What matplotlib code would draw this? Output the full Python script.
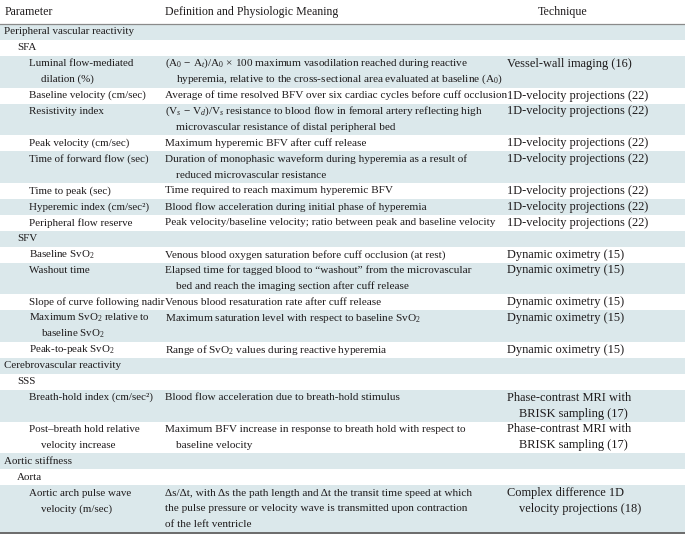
import matplotlib
matplotlib.use("Agg")
import matplotlib.pyplot as plt
from matplotlib.patches import Rectangle

# ---------------- table content ----------------
headers = ["Parameter", "Definition and Physiologic Meaning", "Technique"]

levels = [0, 1, 2, 2, 2, 2, 2, 2, 2, 2,
          1, 2, 2, 2, 2, 2,
          0, 1, 2, 2,
          0, 1, 2]

parameters = [
    ["Peripheral vascular reactivity"],
    ["SFA"],
    ["Luminal flow-mediated", "dilation (%)"],
    ["Baseline velocity (cm/sec)"],
    ["Resistivity index"],
    ["Peak velocity (cm/sec)"],
    ["Time of forward flow (sec)"],
    ["Time to peak (sec)"],
    ["Hyperemic index (cm/sec²)"],
    ["Peripheral flow reserve"],
    ["SFV"],
    [r"Baseline SvO$_2$"],
    ["Washout time"],
    ["Slope of curve following nadir"],
    [r"Maximum SvO$_2$ relative to", r"baseline SvO$_2$"],
    [r"Peak-to-peak SvO$_2$"],
    ["Cerebrovascular reactivity"],
    ["SSS"],
    ["Breath-hold index (cm/sec²)"],
    ["Post–breath hold relative", "velocity increase"],
    ["Aortic stiffness"],
    ["Aorta"],
    ["Aortic arch pulse wave", "velocity (m/sec)"],
]

definitions = [
    [],
    [],
    [r"(A$_0$ − A$_t$)/A$_0$ × 100 maximum vasodilation reached during reactive",
     r"hyperemia, relative to the cross-sectional area evaluated at baseline (A$_0$)"],
    ["Average of time resolved BFV over six cardiac cycles before cuff occlusion"],
    [r"(V$_s$ − V$_d$)/V$_s$ resistance to blood flow in femoral artery reflecting high",
     "microvascular resistance of distal peripheral bed"],
    ["Maximum hyperemic BFV after cuff release"],
    ["Duration of monophasic waveform during hyperemia as a result of",
     "reduced microvascular resistance"],
    ["Time required to reach maximum hyperemic BFV"],
    ["Blood flow acceleration during initial phase of hyperemia"],
    ["Peak velocity/baseline velocity; ratio between peak and baseline velocity"],
    [],
    ["Venous blood oxygen saturation before cuff occlusion (at rest)"],
    ["Elapsed time for tagged blood to “washout” from the microvascular",
     "bed and reach the imaging section after cuff release"],
    ["Venous blood resaturation rate after cuff release"],
    [r"Maximum saturation level with respect to baseline SvO$_2$"],
    [r"Range of SvO$_2$ values during reactive hyperemia"],
    [],
    [],
    ["Blood flow acceleration due to breath-hold stimulus"],
    ["Maximum BFV increase in response to breath hold with respect to",
     "baseline velocity"],
    [],
    [],
    ["Δs/Δt, with Δs the path length and Δt the transit time speed at which",
     "the pulse pressure or velocity wave is transmitted upon contraction",
     "of the left ventricle"],
]
definition_indent = [True] * 22 + [False]

techniques = [
    [],
    [],
    ["Vessel-wall imaging (16)"],
    ["1D-velocity projections (22)"],
    ["1D-velocity projections (22)"],
    ["1D-velocity projections (22)"],
    ["1D-velocity projections (22)"],
    ["1D-velocity projections (22)"],
    ["1D-velocity projections (22)"],
    ["1D-velocity projections (22)"],
    [],
    ["Dynamic oximetry (15)"],
    ["Dynamic oximetry (15)"],
    ["Dynamic oximetry (15)"],
    ["Dynamic oximetry (15)"],
    ["Dynamic oximetry (15)"],
    [],
    [],
    ["Phase-contrast MRI with", "BRISK sampling (17)"],
    ["Phase-contrast MRI with", "BRISK sampling (17)"],
    [],
    [],
    ["Complex difference 1D", "velocity projections (18)"],
]

# ---------------- styling ----------------
plt.rcParams["font.family"] = ["Liberation Serif", "DejaVu Serif"]
plt.rcParams["mathtext.fontset"] = "custom"
plt.rcParams["mathtext.rm"] = "Liberation Serif"
plt.rcParams["mathtext.it"] = "Liberation Serif:italic"

TEXT = "#1e1b1c"
SHADE = "#dbe8eb"
FS_HEAD = 8.6
FS_PARAM = 7.9
FS_DEF = 8.1
FS_TECH = 8.9
LH = 15.9
HEADER_H = 24
W, H = 685, 537

param_x = [4, 17, 29]
param_cont = 12
def_x, def_cont = 165, 11
tech_x, tech_cont = 507, 12
header_x = [5, 165, 538]

fig = plt.figure(figsize=(W / 100, H / 100), dpi=100)
ax = fig.add_axes([0, 0, 1, 1])
ax.set_xlim(0, W)
ax.set_ylim(H, 0)
ax.axis("off")

for hx, ht in zip(header_x, headers):
    ax.text(hx, HEADER_H / 2, ht, fontsize=FS_HEAD, color=TEXT, va="center", ha="left")
ax.plot([0, W], [HEADER_H, HEADER_H], color="#8a8a8a", lw=0.9)

y = HEADER_H
for i in range(len(parameters)):
    n = max(len(parameters[i]), len(definitions[i]), len(techniques[i]))
    h = n * LH
    if i % 2 == 0:
        ax.add_patch(Rectangle((0, y), W, h, facecolor=SHADE, edgecolor="none", zorder=0))
    for k, line in enumerate(parameters[i]):
        x = param_x[levels[i]] + (param_cont if k > 0 else 0)
        ax.text(x, y + LH / 2 + k * LH, line, fontsize=FS_PARAM, color=TEXT, va="center", ha="left")
    for k, line in enumerate(definitions[i]):
        x = def_x + (def_cont if (k > 0 and definition_indent[i]) else 0)
        ax.text(x, y + LH / 2 + k * LH, line, fontsize=FS_DEF, color=TEXT, va="center", ha="left")
    for k, line in enumerate(techniques[i]):
        x = tech_x + (tech_cont if k > 0 else 0)
        ax.text(x, y + LH / 2 + k * LH, line, fontsize=FS_TECH, color=TEXT, va="center", ha="left")
    y += h

ax.plot([0, W], [y, y], color="#6a6a6a", lw=1.4)

fig.savefig("out.png", dpi=100)
